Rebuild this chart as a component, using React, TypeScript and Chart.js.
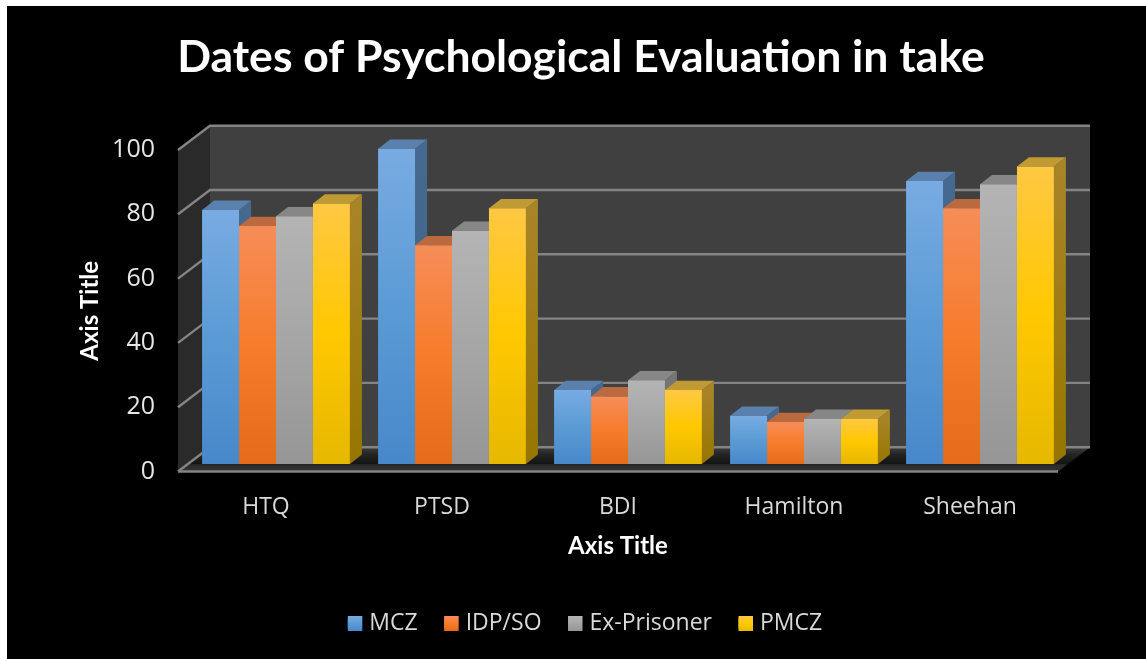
import React, { useEffect, useRef } from "react";
import { Chart, registerables } from "chart.js";

Chart.register(...registerables);

const categories = ["HTQ", "PTSD", "BDI", "Hamilton", "Sheehan"];
const seriesNames = ["MCZ", "IDP/SO", "Ex-Prisoner", "PMCZ"];
const mcz = [79, 98, 23, 15, 88];
const idpSo = [74, 68, 21, 13, 79.5];
const exPrisoner = [77, 72.5, 26, 14, 87];
const pmcz = [81, 79.5, 23, 14, 92.5];
const seriesValues = [mcz, idpSo, exPrisoner, pmcz];

const palette = [
  { flat: "#5b9bd5", stops: ["#78abe2", "#5b9bd5", "#4788ca"], top: "#5a80ad", side: ["#46698f", "#3c6187"] },
  { flat: "#ed7d31", stops: ["#f68d58", "#f77c2c", "#e46c1a"], top: "#bb6a40", side: ["#a55c30", "#96501f"] },
  { flat: "#a5a5a5", stops: ["#b4b4b4", "#a6a6a6", "#969696"], top: "#878787", side: ["#757575", "#666666"] },
  { flat: "#ffc000", stops: ["#ffc843", "#ffc800", "#e6b800"], top: "#c09a32", side: ["#a88428", "#967600"] },
];

const BAR_DX = 10;
const BAR_DY = -7.6;
const DEPTH_X = 12;
const DEPTH_Y = -9.3;
const WALL_DX = 32;
const WALL_DY = -24.3;

const poly = (ctx: CanvasRenderingContext2D, pts: number[][], fill: any) => {
  ctx.beginPath();
  pts.forEach((p, i) => (i ? ctx.lineTo(p[0], p[1]) : ctx.moveTo(p[0], p[1])));
  ctx.closePath();
  ctx.fillStyle = fill;
  ctx.fill();
};

const scenePlugin = {
  id: "scene3d",
  beforeDraw(chart: any) {
    const { ctx, width, height, chartArea, scales } = chart;
    ctx.save();
    ctx.fillStyle = "#ffffff";
    ctx.fillRect(0, 0, width, height);
    ctx.fillStyle = "#000000";
    ctx.fillRect(7, 6, width - 7, height - 6);

    const { left: l, right: r, top: t, bottom: b } = chartArea;
    const bl = l + WALL_DX, br = r + WALL_DX, bt = t + WALL_DY, bb = b + WALL_DY;

    poly(ctx, [[bl, bt], [br, bt], [br, bb], [bl, bb]], "#404040");
    poly(ctx, [[l, t], [bl, bt], [bl, bb], [l, b]], "#2a2a2a");

    const floor = ctx.createLinearGradient(0, bb, 0, b);
    floor.addColorStop(0, "#3c3c3c");
    floor.addColorStop(0.3, "#242424");
    floor.addColorStop(0.68, "#141414");
    floor.addColorStop(0.72, "#2a2a2a");
    floor.addColorStop(1, "#343434");
    poly(ctx, [[l, b], [bl, bb], [br, bb], [r, b]], floor);

    ctx.strokeStyle = "#848484";
    ctx.lineWidth = 2.4;
    scales.y.ticks.forEach((tick: any) => {
      const y = scales.y.getPixelForValue(tick.value);
      ctx.beginPath();
      ctx.moveTo(l, y);
      ctx.lineTo(bl, y + WALL_DY);
      ctx.lineTo(br, y + WALL_DY);
      ctx.stroke();
    });
    ctx.beginPath();
    ctx.moveTo(l, b);
    ctx.lineTo(r, b);
    ctx.stroke();
    ctx.restore();

    // Title and legend are centred a little right of the canvas, as in the slide.
    chart.titleBlock.left = 104;
    chart.titleBlock.right = r;
    chart.legend.left = 112;
    chart.legend.right = r;
  },
  beforeDatasetsDraw(chart: any) {
    const { ctx } = chart;
    ctx.save();
    ctx.translate(BAR_DX, BAR_DY);
    for (let c = 0; c < categories.length; c++) {
      seriesValues.forEach((_, s) => {
        const bar = chart.getDatasetMeta(s).data[c];
        const x1 = bar.x - bar.width / 2;
        const x2 = bar.x + bar.width / 2;
        const grad = ctx.createLinearGradient(0, bar.y, 0, bar.base);
        grad.addColorStop(0, palette[s].side[0]);
        grad.addColorStop(1, palette[s].side[1]);
        poly(ctx, [[x2, bar.y], [x2 + DEPTH_X, bar.y + DEPTH_Y], [x2 + DEPTH_X, bar.base + DEPTH_Y], [x2, bar.base]], grad);
        poly(ctx, [[x1, bar.y], [x1 + DEPTH_X, bar.y + DEPTH_Y], [x2 + DEPTH_X, bar.y + DEPTH_Y], [x2, bar.y]], palette[s].top);
      });
    }
  },
  afterDatasetsDraw(chart: any) {
    chart.ctx.restore();
  },
  afterDraw(chart: any) {
    const { ctx } = chart;
    const shift = chart.legend.left / 2;
    chart.legend.legendHitBoxes.forEach((hit: any, s: number) => {
      const x = hit.left + shift;
      const y = hit.top + hit.height / 2 - 7.5;
      const grad = ctx.createLinearGradient(0, y, 0, y + 15);
      grad.addColorStop(0, palette[s].stops[0]);
      grad.addColorStop(0.5, palette[s].stops[1]);
      grad.addColorStop(1, palette[s].stops[2]);
      ctx.fillStyle = grad;
      ctx.fillRect(x, y, 14.5, 15);
    });
  },
};

export default function App() {
  const ref = useRef<HTMLCanvasElement | null>(null);

  useEffect(() => {
    document.body.style.margin = "0";
    const chart = new Chart(ref.current as HTMLCanvasElement, {
      type: "bar",
      data: {
        labels: categories,
        datasets: seriesValues.map((values, s) => ({
          label: seriesNames[s],
          data: values,
          borderWidth: 0,
          clip: false,
          categoryPercentage: 0.84,
          barPercentage: 1,
          backgroundColor: (context: any) => {
            if (context.type !== "data" || !context.chart.chartArea) return palette[s].flat;
            const yScale = context.chart.scales.y;
            const g = context.chart.ctx.createLinearGradient(
              0, yScale.getPixelForValue(context.parsed.y), 0, yScale.getPixelForValue(0));
            g.addColorStop(0, palette[s].stops[0]);
            g.addColorStop(0.5, palette[s].stops[1]);
            g.addColorStop(1, palette[s].stops[2]);
            return g;
          },
        })),
      },
      options: {
        responsive: false,
        animation: false,
        layout: { padding: { left: 0, right: 88, top: 0, bottom: 14 } },
        plugins: {
          tooltip: { enabled: false },
          title: {
            display: true,
            text: "Dates of Psychological Evaluation in take",
            color: "#ffffff",
            font: { family: "Lato", size: 44.5, weight: "bold" },
            padding: { top: 31, bottom: 65.6 },
          },
          legend: {
            position: "bottom",
            labels: {
              color: "#d9d9d9",
              font: { family: "'Open Sans'", size: 23 },
              boxWidth: 10,
              boxHeight: 10,
              padding: 26.5,
            },
          },
        },
        scales: {
          x: {
            grid: { display: false },
            border: { display: false },
            afterFit: (scale: any) => { scale.height = 114; },
            ticks: {
              color: "#d9d9d9",
              font: { family: "'Open Sans'", size: 23 },
              padding: 14,
              maxRotation: 0,
            },
            title: {
              display: true,
              text: "Axis Title",
              color: "#ffffff",
              font: { family: "Lato", size: 24, weight: "bold" },
              padding: { top: 0, bottom: 25 },
            },
          },
          y: {
            min: 0,
            max: 100,
            grid: { display: false },
            border: { display: false },
            afterFit: (scale: any) => { scale.width = 178; },
            ticks: {
              stepSize: 20,
              color: "#e6e6e6",
              font: { family: "'Open Sans'", size: 25 },
              padding: 15,
            },
            title: {
              display: true,
              text: "Axis Title",
              color: "#ffffff",
              font: { family: "Lato", size: 24, weight: "bold" },
              padding: { top: 76, bottom: 0 },
            },
          },
        },
      },
      plugins: [scenePlugin],
    } as any);
    return () => chart.destroy();
  }, []);

  return (
    <div style={{ position: "absolute", left: 0, top: 0, width: 1146, height: 659, overflow: "hidden" }}>
      <canvas ref={ref} width={1146} height={659} style={{ display: "block" }} />
    </div>
  );
}
